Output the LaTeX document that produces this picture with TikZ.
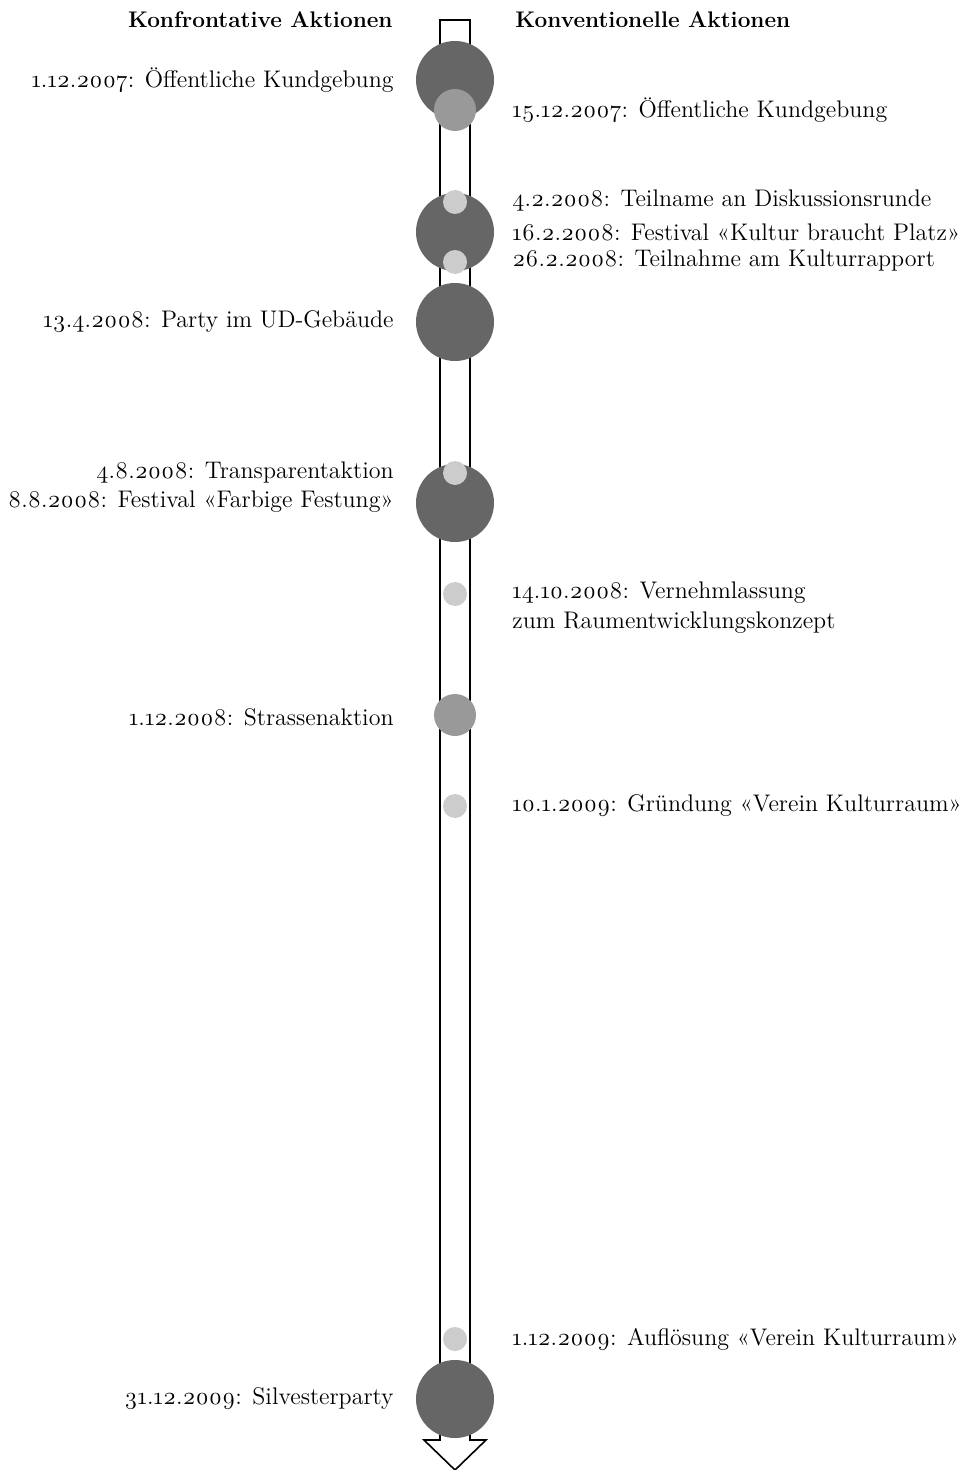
\documentclass[tikz,border=0pt]{standalone}
\usepackage{fontspec}
\setmainfont{Latin Modern Roman}[Numbers=OldStyle]
\usepackage{tikz}
\usetikzlibrary{positioning, calc}
\definecolor{Dark}{RGB}{102, 102, 102}
\definecolor{Mid}{RGB}{153, 153, 153}
\definecolor{Light}{RGB}{204, 204, 204}

\tikzset{
  big/.style={circle, fill=Dark, minimum size=39pt, inner sep=0pt},
  medium/.style={circle, fill=Mid, minimum size=21pt, inner sep=0pt},
  small/.style={circle, fill=Light, minimum size=12pt, inner sep=0pt},
  lefttext/.style={anchor=east, inner sep=0pt, font=\fontsize{12}{15}\selectfont, align=right},
  righttext/.style={anchor=west, inner sep=0pt, font=\fontsize{12}{15}\selectfont, align=left},
}

\begin{document}
\begin{tikzpicture}[x=0.5pt, y=-0.5pt]
            \useasboundingbox (0,0) rectangle (975,1470);

            % Zeitachse
            \draw[thick, fill=white] (440,20) -- (470,20) -- (470,1440) -- (486,1440) -- (455,1470)
                -- (424,1440) -- (440,1440) -- cycle;

            % Titel
            \node[lefttext, font=\fontsize{11.3}{14}\selectfont\bfseries] (konf) at (393,20) {Konfrontative Aktionen};
            \node[righttext, font=\fontsize{11.3}{14}\selectfont\bfseries] (konv) at (515,20) {Konventionelle Aktionen};

            % Ereignisse
            \node[big] (e1) at (455,80) {};
            \node[medium] (e2) at (455,110) {};
            \node[big] (e4) at (455,232) {};
            \node[small] (e3) at (455,202) {};
            \node[small] (e5) at (455,262) {};
            \node[big] (e6) at (455,322) {};
            \node[big] (e8) at (455,503) {};
            \node[small] (e7) at (455,473) {};
            \node[small] (e9) at (455,594) {};
            \node[medium] (e10) at (455,715) {};
            \node[small] (e11) at (455,806) {};
            \node[small] (e12) at (455,1339) {};
            \node[big] (e13) at (455,1399) {};

            % Beschriftungen links
            \node[lefttext] (t1) at (394,80) {1.12.2007: Öffentliche Kundgebung};
            \node[lefttext] (t6) at (394,322) {13.4.2008: Party im UD-Gebäude};
            \node[lefttext] (t7) at (394,472) {4.8.2008: Transparentaktion};
            \node[lefttext] (t8) at (394,502) {8.8.2008: Festival «Farbige Festung»};
            \node[lefttext] (t10) at (394,717) {1.12.2008: Strassenaktion};
            \node[lefttext] (t13) at (394,1399) {31.12.2009: Silvesterparty};

            % Beschriftungen rechts
            \node[righttext] (t2) at (512,110) {15.12.2007: Öffentliche Kundgebung};
            \node[righttext] (t3) at (512,201) {4.2.2008: Teilname an Diskussionsrunde};
            \node[righttext] (t4) at (512,232) {16.2.2008: Festival «Kultur braucht Platz»};
            \node[righttext] (t5) at (512,261) {26.2.2008: Teilnahme am Kulturrapport};
            \node[righttext] (t9) at (512,608) {14.10.2008: Vernehmlassung\\zum Raumentwicklungskonzept};
            \node[righttext] (t11) at (512,806) {10.1.2009: Gründung «Verein Kulturraum»};
            \node[righttext] (t12) at (512,1339) {1.12.2009: Auflösung «Verein Kulturraum»};
        \end{tikzpicture}
\end{document}
